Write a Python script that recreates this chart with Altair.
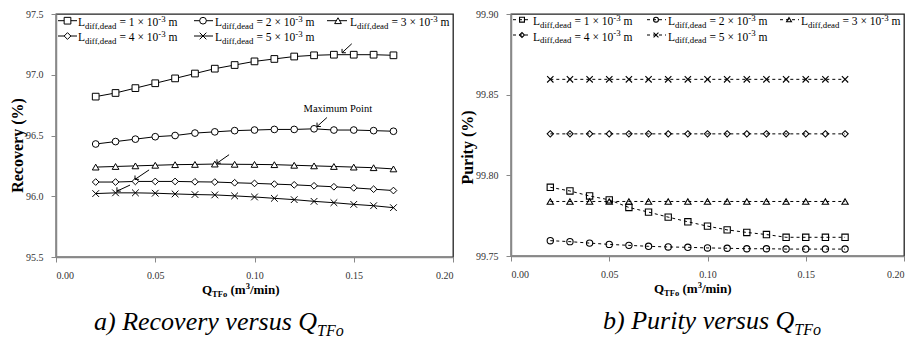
import altair as alt
import pandas as pd

FONT = "'Liberation Serif', 'Times New Roman', Times, serif"

# ---------------- data ----------------
q_tfo = [0.02, 0.03, 0.04, 0.05, 0.06, 0.07, 0.08, 0.09, 0.10, 0.11, 0.12, 0.13, 0.14, 0.15, 0.16, 0.17]
series = ["1", "2", "3", "4", "5"]  # L_diff,dead = n x 10^-3 m

rec_1 = [96.82, 96.85, 96.89, 96.93, 96.97, 97.01, 97.05, 97.08, 97.11, 97.13, 97.15, 97.16, 97.165, 97.165, 97.165, 97.16]
rec_2 = [96.43, 96.45, 96.47, 96.49, 96.50, 96.52, 96.53, 96.54, 96.545, 96.55, 96.55, 96.555, 96.545, 96.545, 96.54, 96.535]
rec_3 = [96.24, 96.245, 96.25, 96.255, 96.26, 96.262, 96.265, 96.263, 96.262, 96.26, 96.255, 96.25, 96.245, 96.24, 96.235, 96.225]
rec_4 = [96.117, 96.117, 96.122, 96.122, 96.122, 96.119, 96.117, 96.111, 96.106, 96.10, 96.094, 96.086, 96.078, 96.069, 96.058, 96.047]
rec_5 = [96.022, 96.028, 96.028, 96.025, 96.019, 96.014, 96.011, 96.003, 95.994, 95.983, 95.972, 95.958, 95.947, 95.933, 95.922, 95.906]

pur_1 = [99.7926, 99.7903, 99.7872, 99.7848, 99.7801, 99.7772, 99.7741, 99.7712, 99.7685, 99.7662, 99.7646, 99.7633, 99.7616, 99.7616, 99.7616, 99.7616]
pur_2 = [99.7595, 99.7589, 99.7580, 99.7572, 99.7566, 99.7560, 99.7556, 99.7554, 99.7550, 99.7548, 99.7545, 99.7545, 99.7543, 99.7543, 99.7543, 99.7543]
pur_3 = [99.7838] * 16
pur_4 = [99.8257] * 16
pur_5 = [99.8595] * 16

# arrows pointing to the maximum of each recovery curve
arrow_tail_q = [0.149, 0.1365, 0.0872, 0.0469, 0.0373]
arrow_tail_v = [97.255, 96.648, 96.342, 96.217, 96.092]
arrow_tip_q = [0.1441, 0.1315, 0.0811, 0.0398, 0.0307]
arrow_tip_v = [97.181, 96.574, 96.272, 96.139, 96.042]
max_label = "Maximum Point"
max_label_q = 0.142
max_label_v = 96.714

x_ticks = [0.0, 0.05, 0.10, 0.15, 0.20]
rec_ticks = [95.5, 96.0, 96.5, 97.0, 97.5]
pur_ticks = [99.75, 99.80, 99.85, 99.90]

X_PATH = "M-1,-1L1,1M-1,1L1,-1"
shape_scale = alt.Scale(domain=series, range=["square", "circle", "triangle-up", "diamond", X_PATH])


def long_df(cols):
    rows = []
    for s, vals in zip(series, cols):
        for q, v in zip(q_tfo, vals):
            rows.append({"q": q, "v": v, "s": s})
    return pd.DataFrame(rows)


rec_df = long_df([rec_1, rec_2, rec_3, rec_4, rec_5])
pur_df = long_df([pur_1, pur_2, pur_3, pur_4, pur_5])

# ---------------- text helpers (sub/superscripts) ----------------
REG = {'L': .611, ' ': .25, '=': .564, '×': .564, 'm': .778, 'd': .5, 'i': .278, 'f': .333, ',': .25,
       'e': .444, 'a': .444, '-': .333, '0': .5, '1': .5, '2': .5, '3': .5, '4': .5, '5': .5}
BOLD = {'Q': .778, 'T': .667, 'F': .611, 'o': .5, ' ': .25, '(': .333, 'm': .833, '3': .5, '/': .278,
        'i': .278, 'n': .556, ')': .333}
ITAL = {'a': .5, ')': .333, ' ': .25, 'R': .611, 'e': .444, 'c': .444, 'o': .5, 'v': .444, 'r': .389,
        'y': .444, 's': .389, 'u': .5, 'Q': .722, 'b': .5, 'P': .611, 'i': .278, 't': .278, 'T': .556, 'F': .611}


def runs(parts, x0, base, f, s, widths):
    out = []
    x = x0
    for text, kind in parts:
        size = f if kind == "n" else s
        lead = len(text) - len(text.lstrip(" "))
        xs = x + lead * widths[' '] * size
        y = base if kind == "n" else (base + 0.22 * f if kind == "sub" else base - 0.36 * f)
        if text.strip():
            out.append({"tx": xs, "ty": y, "t": text.strip(), "fs": size})
        x += sum(widths.get(c, .5) for c in text) * size
    return out


def legend_text(n, x0, base, f, s):
    parts = [("L", "n"), ("diff,dead", "sub"), (f" = {n} × 10", "n"), ("-3", "sup"), (" m", "n")]
    return runs(parts, x0, base, f, s, REG)


def text_layer(rows, weight="normal", style="normal"):
    return alt.Chart(pd.DataFrame(rows)).mark_text(
        font=FONT, align="left", baseline="alphabetic", color="black",
        fontWeight=weight, fontStyle=style
    ).encode(
        x=alt.X("tx:Q", scale=None, axis=None),
        y=alt.Y("ty:Q", scale=None, axis=None),
        text="t:N",
        size=alt.Size("fs:Q", scale=None, legend=None),
    )


def panel(df, ydom, yticks, yfmt, ytitle, dashed, filled,
          leg_cols, leg_rows, leg_f, leg_s, leg_msize, msize,
          xtitle_x, xtitle_base, cap_parts, cap_x, cap_base, title_y):
    xaxis = alt.Axis(values=x_ticks, format=".2f", title=None, labelPadding=8)
    yaxis = alt.Axis(values=yticks, format=yfmt, title=ytitle, labelPadding=8,
                     titlePadding=0, titleY=title_y)
    xscale = alt.Scale(domain=[0, 0.2], nice=False)
    yscale = alt.Scale(domain=ydom, nice=False, zero=False)
    xenc = alt.X("q:Q", scale=xscale, axis=xaxis)
    yenc = alt.Y("v:Q", scale=yscale, axis=yaxis)
    base = alt.Chart(df)
    line_kw = dict(color="black", strokeWidth=1)
    if dashed:
        line_kw["strokeDash"] = [3, 3]
    lines = base.mark_line(**line_kw).encode(x=xenc, y=yenc, detail="s:N")
    if filled:
        pts = base.mark_point(filled=True, fill="white", stroke="black", strokeWidth=1, size=msize, opacity=1)
    else:
        pts = base.mark_point(filled=False, stroke="black", strokeWidth=1.1, size=msize, opacity=1)
    pts = pts.encode(x=xenc, y=yenc, shape=alt.Shape("s:N", scale=shape_scale, legend=None))

    # legend (drawn inside the plot area, two rows)
    leg_rows_data = []
    txt = []
    for i, s in enumerate(series):
        r, c = divmod(i, 3)
        lx0, lx1, mx, tx = leg_cols[c]
        my, base_y = leg_rows[r]
        leg_rows_data.append({"lx0": lx0, "lx1": lx1, "mx": mx, "my": my, "s": s})
        txt += legend_text(s, tx, base_y, leg_f, leg_s)
    leg_df = pd.DataFrame(leg_rows_data)
    leg_line = alt.Chart(leg_df).mark_rule(**line_kw).encode(
        x=alt.X("lx0:Q", scale=None, axis=None), x2="lx1:Q",
        y=alt.Y("my:Q", scale=None, axis=None))
    if filled:
        leg_pts = alt.Chart(leg_df).mark_point(filled=True, fill="white", stroke="black", strokeWidth=1,
                                               size=leg_msize, opacity=1)
    else:
        leg_pts = alt.Chart(leg_df).mark_point(filled=False, stroke="black", strokeWidth=1.1,
                                               size=leg_msize, opacity=1)
    leg_pts = leg_pts.encode(x=alt.X("mx:Q", scale=None, axis=None), y=alt.Y("my:Q", scale=None, axis=None),
                             shape=alt.Shape("s:N", scale=shape_scale, legend=None))

    xt = runs([("Q", "n"), ("TFo", "sub"), (" (m", "n"), ("3", "sup"), ("/min)", "n")],
              xtitle_x, xtitle_base, 13, 8.5, BOLD)
    cap = runs(cap_parts, cap_x, cap_base, 26, 16, ITAL)

    layers = [lines, pts, leg_line, leg_pts, text_layer(txt), text_layer(xt, weight="bold"),
              text_layer(cap, style="italic")]
    return layers, xscale, yscale, xaxis, yaxis


left_layers, lxs, lys, lxa, lya = panel(
    rec_df, [95.5, 97.5], rec_ticks, ".1f", "Recovery (%)", False, True,
    leg_cols=[(2, 21, 11.5, 22), (138, 157, 147, 159), (271, 291, 282, 294)],
    leg_rows=[(6.7, 12), (22, 27)], leg_f=11.5, leg_s=8.8, leg_msize=45, msize=45,
    xtitle_x=146, xtitle_base=280, cap_parts=[("a) Recovery versus Q", "n"), ("TFo", "sub")],
    cap_x=38, cap_base=316, title_y=131)

arrow_df = pd.DataFrame({"q": arrow_tail_q, "v": arrow_tail_v, "q2": arrow_tip_q, "v2": arrow_tip_v})
arr_x = alt.X("q:Q", scale=lxs, axis=lxa)
arr_y = alt.Y("v:Q", scale=lys, axis=lya)
arrow_shaft = alt.Chart(arrow_df).mark_rule(color="black", strokeWidth=1).encode(
    x=arr_x, y=arr_y, x2="q2:Q", y2="v2:Q")
head_df = pd.DataFrame({"q": arrow_tip_q, "v": arrow_tip_v})
arrow_head = alt.Chart(head_df).mark_point(shape="M0,-1L0,0L1,0", filled=False, stroke="black",
                                            strokeWidth=1, size=60, opacity=1).encode(x=arr_x, y=arr_y)
max_df = pd.DataFrame({"q": [max_label_q], "v": [max_label_v], "t": [max_label]})
max_text = alt.Chart(max_df).mark_text(font=FONT, fontSize=10.5, color="black", align="center",
                                        baseline="middle").encode(x=arr_x, y=arr_y, text="t:N")

left = alt.layer(*left_layers, arrow_shaft, arrow_head, max_text).properties(width=397, height=243)

right_layers, _, _, _, _ = panel(
    pur_df, [99.75, 99.90], pur_ticks, ".2f", "Purity (%)", True, False,
    leg_cols=[(2, 20, 11, 22), (136, 155, 145, 157), (269, 288, 278, 290)],
    leg_rows=[(5.7, 11), (21, 26.5)], leg_f=11.5, leg_s=8.8, leg_msize=24, msize=40,
    xtitle_x=143, xtitle_base=279, cap_parts=[("b) Purity versus Q", "n"), ("TFo", "sub")],
    cap_x=92, cap_base=315, title_y=133)
right = alt.layer(*right_layers).properties(width=393, height=242)

chart = alt.hconcat(left, right, spacing=3).properties(
    padding={"left": 0, "top": 0, "right": 0, "bottom": 0}
).configure_view(
    stroke="#222", strokeWidth=1.3
).configure_axis(
    labelFont=FONT, labelFontSize=10, labelColor="#333", tickColor="#888", domainColor="#888",
    tickSize=5, domainWidth=1.5, grid=False, titleFont=FONT, titleFontWeight="bold",
    titleFontSize=16, titleColor="black"
)

chart.save("out.html", embed_options={"renderer": "svg", "actions": False})
